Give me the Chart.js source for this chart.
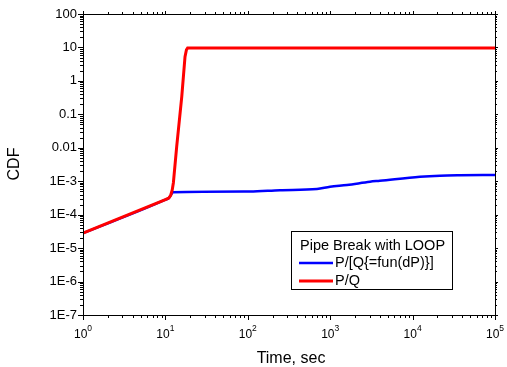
<!DOCTYPE html>
<html>
<head>
<meta charset="utf-8">
<script src="https://cdn.jsdelivr.net/npm/chart.js@4.4.1/dist/chart.umd.min.js"></script>
<style>
  html, body { margin: 0; padding: 0; background: #fff; }
  #wrap { width: 507px; height: 367px; }
</style>
</head>
<body>
<div id="wrap"><canvas id="cdfChart" width="507" height="367"></canvas></div>
<script>
/* ================= DATA ================= */
const timeRed = [1, 10, 11, 11.6, 12.1, 12.5, 13.7, 15.8, 17.3, 18, 18.6, 100000];
const cdfRed = [2.8e-5, 2.8e-4, 3.15e-4, 3.8e-4, 5.5e-4, 9e-4, 0.0107, 0.34, 5.3, 8.5, 9.6, 9.6];

const timeBlue = [1, 10, 11, 11.6, 12.4, 106, 246, 692, 995, 1600, 3040, 4000, 12300, 21500, 37600, 100000];
const cdfBlue = [2.8e-5, 2.8e-4, 3.15e-4, 3.8e-4, 4.66e-4, 4.9e-4, 5.4e-4, 5.85e-4, 6.85e-4, 7.7e-4, 9.66e-4, 1.03e-3, 1.36e-3, 1.47e-3, 1.51e-3, 1.53e-3];

const seriesNames = ["P/[Q{=fun(dP)}]", "P/Q"];
const legendTitle = "Pipe Break with LOOP";

const xTicks = [1, 10, 100, 1000, 10000, 100000];
const xExponents = ["0", "1", "2", "3", "4", "5"];
const yTicks = [1e-7, 1e-6, 1e-5, 1e-4, 1e-3, 0.01, 0.1, 1, 10, 100];
const yTickLabels = ["1E-7", "1E-6", "1E-5", "1E-4", "1E-3", "0.01", "0.1", "1", "10", "100"];

const FONT = "Arial, 'Liberation Sans', sans-serif";

function toPoints(xs, ys) {
  return xs.map((x, i) => ({ x: x, y: ys[i] }));
}

// minor ticks 2..9 per decade
function minorValues(minExp, maxExp) {
  const out = [];
  for (let e = minExp; e < maxExp; e++) {
    for (let m = 2; m <= 9; m++) out.push(m * Math.pow(10, e));
  }
  return out;
}

/* ================= FRAME / TICKS / TEXT ================= */
const framePlugin = {
  id: "framePlugin",
  afterDraw(chart) {
    const ctx = chart.ctx;
    const a = chart.chartArea;
    const xs = chart.scales.x;
    const ys = chart.scales.y;

    ctx.save();
    ctx.strokeStyle = "#000";
    ctx.lineWidth = 1;
    ctx.strokeRect(a.left + 0.5, a.top + 0.5, a.right - a.left, a.bottom - a.top);

    ctx.beginPath();
    // x ticks
    xTicks.forEach(v => {
      const px = Math.round(xs.getPixelForValue(v)) + 0.5;
      ctx.moveTo(px, a.bottom); ctx.lineTo(px, a.bottom + 5);
      ctx.moveTo(px, a.top); ctx.lineTo(px, a.top - 3);
    });
    minorValues(0, 5).forEach(v => {
      const px = Math.round(xs.getPixelForValue(v)) + 0.5;
      ctx.moveTo(px, a.bottom); ctx.lineTo(px, a.bottom + 3);
      ctx.moveTo(px, a.top); ctx.lineTo(px, a.top - 2);
    });
    // y ticks
    yTicks.forEach(v => {
      const py = Math.round(ys.getPixelForValue(v)) + 0.5;
      ctx.moveTo(a.left, py); ctx.lineTo(a.left - 5, py);
      ctx.moveTo(a.right, py); ctx.lineTo(a.right + 3, py);
    });
    minorValues(-7, 2).forEach(v => {
      const py = Math.round(ys.getPixelForValue(v)) + 0.5;
      ctx.moveTo(a.left, py); ctx.lineTo(a.left - 3, py);
      ctx.moveTo(a.right, py); ctx.lineTo(a.right + 2, py);
    });
    ctx.stroke();

    // x tick labels with superscript exponent
    ctx.fillStyle = "#000";
    ctx.textBaseline = "alphabetic";
    ctx.textAlign = "left";
    xTicks.forEach((v, i) => {
      const px = xs.getPixelForValue(v);
      ctx.font = "12px " + FONT;
      const w1 = ctx.measureText("10").width;
      ctx.font = "8.5px " + FONT;
      const w2 = ctx.measureText(xExponents[i]).width;
      const x0 = px - (w1 + w2) / 2;
      ctx.font = "12px " + FONT;
      ctx.fillText("10", x0, 338);
      ctx.font = "8.5px " + FONT;
      ctx.fillText(xExponents[i], x0 + w1, 331);
    });

    // axis titles
    ctx.font = "16px " + FONT;
    ctx.textAlign = "center";
    ctx.textBaseline = "middle";
    ctx.fillText("Time, sec", 291, 359);
    ctx.save();
    ctx.translate(15, 164);
    ctx.rotate(-Math.PI / 2);
    ctx.fillText("CDF", 0, 0);
    ctx.restore();

    // legend box
    const lx = 291, ly = 231, lw = 161, lh = 58;
    ctx.fillStyle = "#fff";
    ctx.fillRect(lx, ly, lw, lh);
    ctx.strokeStyle = "#000";
    ctx.lineWidth = 1;
    ctx.strokeRect(lx + 0.5, ly + 0.5, lw, lh);
    ctx.fillStyle = "#000";
    ctx.font = "14.5px " + FONT;
    ctx.textAlign = "left";
    ctx.fillText(legendTitle, 300, 246);
    const colors = ["#0000ff", "#ff0000"];
    const widths = [2.5, 3];
    const rows = [263, 281];
    rows.forEach((ry, i) => {
      ctx.strokeStyle = colors[i];
      ctx.lineWidth = widths[i];
      ctx.beginPath();
      ctx.moveTo(299, ry);
      ctx.lineTo(333, ry);
      ctx.stroke();
      ctx.fillStyle = "#000";
      ctx.fillText(seriesNames[i], 335, ry);
    });
    ctx.restore();
  }
};

/* ================= CHART ================= */
new Chart(document.getElementById("cdfChart"), {
  type: "line",
  data: {
    datasets: [
      {
        label: seriesNames[1],
        data: toPoints(timeRed, cdfRed),
        borderColor: "#ff0000",
        borderWidth: 3,
        pointRadius: 0,
        tension: 0,
        fill: false,
        order: 0
      },
      {
        label: seriesNames[0],
        data: toPoints(timeBlue, cdfBlue),
        borderColor: "#0000ff",
        borderWidth: 2.5,
        pointRadius: 0,
        cubicInterpolationMode: "monotone",
        fill: false,
        order: 1
      }
    ]
  },
  options: {
    responsive: false,
    animation: false,
    layout: { padding: { top: 14, right: 12, left: 0, bottom: 0 } },
    plugins: {
      legend: { display: false },
      tooltip: { enabled: false }
    },
    scales: {
      x: {
        type: "logarithmic",
        min: 1,
        max: 100000,
        grid: { display: false, drawTicks: false },
        border: { display: false },
        ticks: { display: false },
        afterFit: s => { s.height = 52; }
      },
      y: {
        type: "logarithmic",
        min: 1e-7,
        max: 100,
        grid: { display: false, drawTicks: false },
        border: { display: false },
        afterBuildTicks: s => { s.ticks = yTicks.map(v => ({ value: v })); },
        ticks: {
          padding: 6,
          color: "#000",
          font: { family: FONT, size: 13 },
          autoSkip: false,
          callback: (v, i) => yTickLabels[i]
        },
        afterFit: s => { s.width = 83; }
      }
    }
  },
  plugins: [framePlugin]
});
</script>
</body>
</html>
